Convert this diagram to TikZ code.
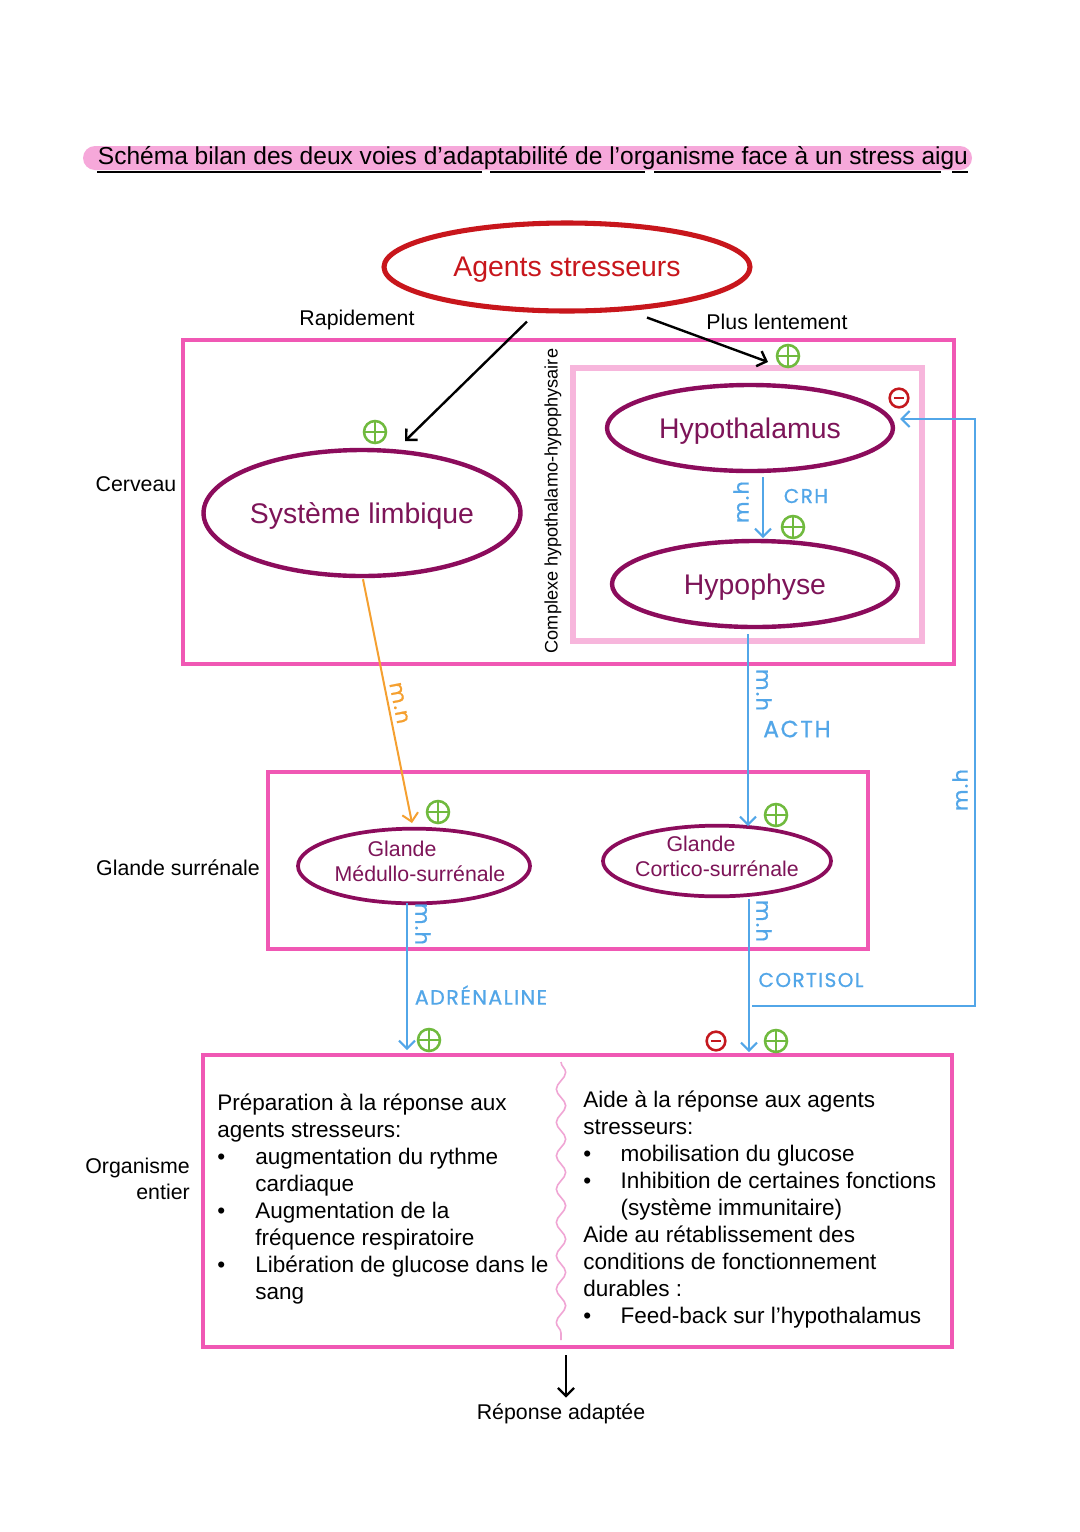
\documentclass[tikz,border=0pt]{standalone}
\usepackage{fontspec}
\setmainfont{Liberation Sans}
\newfontfamily\handfont[LetterSpace=7,FakeBold=0.8]{Poppins}
\usetikzlibrary{shapes.geometric,arrows.meta,decorations.pathmorphing,calc}
\definecolor{boxpink}{RGB}{240,88,180}
\definecolor{lightpink}{RGB}{247,182,220}
\definecolor{titlepink}{RGB}{246,168,218}
\definecolor{wavepink}{RGB}{240,165,212}
\definecolor{ellpurple}{RGB}{140,12,92}
\definecolor{txtpurple}{RGB}{125,20,88}
\definecolor{agred}{RGB}{200,22,28}
\definecolor{plusgreen}{RGB}{112,186,62}
\definecolor{minred}{RGB}{196,24,30}
\definecolor{hblue}{RGB}{82,166,232}
\definecolor{narrorange}{RGB}{245,160,48}
\tikzset{
  box/.style={draw=boxpink, line width=3pt},
  ell/.style={ellipse, draw=ellpurple, line width=3.3pt, inner sep=0pt, text depth=0pt, text=txtpurple, font=\fontsize{21.3}{24}\selectfont},
  smallell/.style={ellipse, draw=ellpurple, line width=2.8pt, inner sep=0pt},
  glandtxt/.style={inner sep=0pt, text=txtpurple, align=center, font=\fontsize{16}{18.75}\selectfont},
  lbl/.style={inner sep=0pt, font=\fontsize{16}{19}\selectfont},
  body/.style={inner sep=0pt, align=left, font=\fontsize{16.9}{20.25}\selectfont},
  hand/.style={inner sep=0pt, text=hblue, font=\handfont\fontsize{15}{18}\selectfont},
  handsmall/.style={inner sep=0pt, text=hblue, font=\handfont\fontsize{15.5}{18}\selectfont},
  plusm/.style={circle, draw=plusgreen, line width=1.9pt, minimum size=16.5pt, inner sep=0pt,
    path picture={\draw[plusgreen, line width=1.9pt] (path picture bounding box.north) -- (path picture bounding box.south) (path picture bounding box.west) -- (path picture bounding box.east);}},
  minusm/.style={circle, draw=minred, line width=1.9pt, minimum size=14pt, inner sep=0pt,
    path picture={\draw[minred, line width=2pt] ([xshift=-3.8pt]path picture bounding box.center) -- ([xshift=3.8pt]path picture bounding box.center);}},
  blackarr/.style={draw=black, line width=1.8pt, -{Straight Barb[length=6pt,width=12pt,line width=1.8pt]}},
  bluearr/.style={draw=hblue, line width=1.5pt, -{Straight Barb[length=6pt,width=12pt,line width=1.5pt]}},
  orangearr/.style={draw=narrorange, line width=1.5pt, -{Straight Barb[length=6pt,width=12pt,line width=1.5pt]}},
}
\begin{document}
\begin{tikzpicture}[x=0.75pt,y=-0.75pt]
\useasboundingbox[fill=white] (0,0) rectangle (1080,1532);

% title
\fill[titlepink, rounded corners=9pt] (83,146) rectangle (972,170);
\node[inner sep=0pt, font=\fontsize{18.4}{22}\selectfont] (title) at (533,158) {Schéma bilan des deux voies d’adaptabilité de l’organisme face à un stress aigu};
\draw[black, line width=1.6pt] (97,172) -- (482,172) (490,172) -- (645,172) (654,172) -- (941,172) (952,172) -- (968,172);

% boxes
\draw[box] (183,340) rectangle (954,664);
\draw[draw=lightpink, line width=3.8pt] (573,368) rectangle (922,641);
\draw[box] (268,772) rectangle (868,949);
\draw[box] (203,1055) rectangle (952,1347);
\draw[wavepink, line width=1.2pt, decorate, decoration={snake, segment length=25pt, amplitude=3.5pt}] (561,1062) -- (561,1340);

% ellipses
\node[ellipse, draw=agred, line width=3.8pt, inner sep=0pt, text depth=0pt, minimum width=274.5pt, minimum height=66pt, text=agred, font=\fontsize{21.3}{24}\selectfont] (agents) at (567,267) {Agents stresseurs};
\node[ell, minimum width=232.5pt, minimum height=94.5pt] (limb) at (362,513) {Système limbique};
\node[ell, minimum width=214.5pt, minimum height=64.5pt] (hypo) at (750,428) {Hypothalamus};
\node[ell, minimum width=214.5pt, minimum height=64.5pt] (hyph) at (755,584) {Hypophyse};
\node[smallell, minimum width=174pt, minimum height=56pt] (medul) at (414,866) {};
\node[glandtxt] (medultxt) at ($(medul.center)+(6,-5)$) {\hspace*{-27pt}Glande\\Médullo-surrénale};
\node[smallell, minimum width=171pt, minimum height=53pt] (cortic) at (717,861) {};
\node[glandtxt] (corticxt) at ($(cortic.center)+(0,-5)$) {\hspace*{-24pt}Glande\\Cortico-surrénale};

% side labels
\node[lbl] (rapid) at (357,320) {Rapidement};
\node[lbl] (lent) at (777,322) {Plus lentement};
\node[lbl] (cerv) at (136,484) {Cerveau};
\node[lbl] (gsur) at (178,868) {Glande surrénale};
\node[lbl, anchor=east, align=right, font=\fontsize{16}{19}\selectfont] (orga) at (190,1179) {Organisme\\entier};
\node[inner sep=0pt, rotate=90, font=\fontsize{13.6}{16}\selectfont] (complexe) at (553,501) {Complexe hypothalamo-hypophysaire};

% black arrows
\coordinate (limbin) at (405,441);
\coordinate (hypoin) at (768,362);
\draw[blackarr] ($(agents.south)+(-40,8)$) -- (limbin);
\draw[blackarr] ($(agents.south)+(80,4)$) -- (hypoin);

% CRH
\coordinate (crhs) at (763,477);
\coordinate (crhe) at (763,538);
\draw[bluearr] (crhs) -- (crhe);
\node[handsmall, rotate=90] (mh1) at (741,502) {m.h};
\node[hand] (crh) at (806,496) {CRH};

% ACTH
\coordinate (acths) at ($(hyph.south)+(-7,5)$);
\coordinate (acthe) at (748,826);
\draw[bluearr] (acths) -- (acthe);
\node[handsmall, rotate=-90] (mh2) at (764,690) {m.h};
\node[hand, font=\handfont\fontsize{17.5}{20}\selectfont] (acth) at (797,729) {ACTH};

% nervous
\coordinate (mns) at ($(limb.south)+(1,1)$);
\coordinate (mne) at (412,823);
\draw[orangearr] (mns) -- (mne);
\node[handsmall, text=narrorange, rotate=-78.7] (mn) at (399,703) {m.n};

% adrenaline
\coordinate (adrs) at (407,903);
\coordinate (adre) at (407,1050);
\draw[bluearr] (adrs) -- (adre);
\node[handsmall, rotate=-90] (mh3) at (423,924) {m.h};
\node[hand, font=\handfont\fontsize{15.5}{19}\selectfont] (adr) at (481,995) {ADRÉNALINE};

% cortisol
\coordinate (cors) at (749,899);
\coordinate (core) at (749,1052);
\draw[bluearr] (cors) -- (core);
\node[handsmall, rotate=-90] (mh4) at (764,921) {m.h};
\node[hand] (cort) at (811,980) {CORTISOL};

% feedback
\coordinate (fbs) at (752,1006);
\coordinate (fbe) at ($(hypo.east)+(5,-9)$);
\draw[bluearr] (fbs) -- (975,1006) -- (975,419) -- (fbe);
\node[handsmall, rotate=90] (mh5) at (960,790) {m.h};

% plus / minus
\node[plusm] (p1) at (788,356) {};
\node[plusm] (p2) at (375,432) {};
\node[plusm] (p3) at (793,527) {};
\node[plusm] (p4) at (438,812) {};
\node[plusm] (p5) at (776,815) {};
\node[plusm] (p6) at (429,1040) {};
\node[plusm] (p7) at (776,1041) {};
\node[minusm] (m1) at (899,398) {};
\node[minusm] (m2) at (716,1041) {};

% texts in bottom box
\node[body, anchor=north west] (lefttxt) at (217,1094) {Préparation à la réponse aux\\
agents stresseurs:\\
\makebox[28.5pt][l]{\textbullet}augmentation du rythme\\
\hspace*{28.5pt}cardiaque\\
\makebox[28.5pt][l]{\textbullet}Augmentation de la\\
\hspace*{28.5pt}fréquence respiratoire\\
\makebox[28.5pt][l]{\textbullet}Libération de glucose dans le\\
\hspace*{28.5pt}sang};
\node[body, anchor=north west] (righttxt) at (583,1091) {Aide à la réponse aux agents\\
stresseurs:\\
\makebox[28pt][l]{\textbullet}mobilisation du glucose\\
\makebox[28pt][l]{\textbullet}Inhibition de certaines fonctions\\
\hspace*{28pt}(système immunitaire)\\
Aide au rétablissement des\\
conditions de fonctionnement\\
durables :\\
\makebox[28pt][l]{\textbullet}Feed-back sur l’hypothalamus};

% final
\node[lbl] (rep) at (561,1414) {Réponse adaptée};
\coordinate (fins) at (566,1355);
\draw[blackarr] (fins) -- ($(rep.north -| fins)+(0,-6)$);
\end{tikzpicture}
\end{document}
